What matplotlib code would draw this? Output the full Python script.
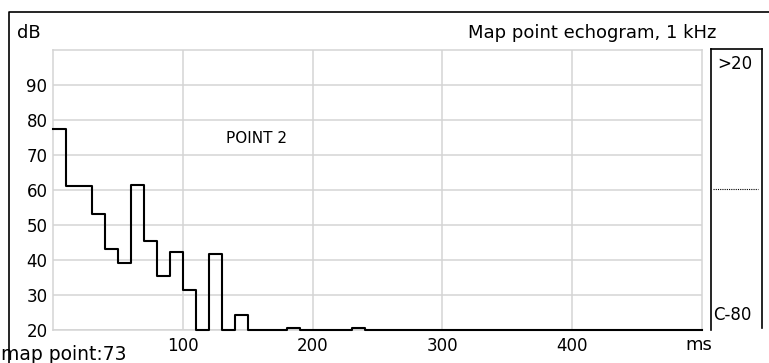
import matplotlib
matplotlib.use("Agg")
import matplotlib.pyplot as plt
from matplotlib.lines import Line2D

plt.rcParams['font.family'] = ['DejaVu Sans']

# Data
time_ms = [0, 10, 20, 30, 40, 50, 60, 70, 80, 90, 100, 110, 120, 130, 140,
           150, 160, 170, 180, 190, 200, 210, 220, 230, 240, 500]
level_db = [77.3, 61, 61, 53, 43, 39, 61.5, 45.5, 35.3, 42.3, 31.3, 20, 41.7, 20, 24.2,
            20, 20, 20, 20.6, 20, 20, 20, 20, 20.6, 20, 20]
x_ticks = [100, 200, 300, 400]
y_ticks = [20, 30, 40, 50, 60, 70, 80, 90]

W, H = 769, 363
fig = plt.figure(figsize=(W / 100, H / 100), dpi=100)
fig.patch.set_facecolor('white')

def fx(x):
    return x / W

def fy(y):
    return 1 - y / H

L, R, T, B = 53, 702, 50, 329.7
ax = fig.add_axes([fx(L), fy(B), (R - L) / W, (B - T) / H])
ax.set_xlim(0, 500)
ax.set_ylim(20, 100)
ax.set_xticks(x_ticks)
ax.set_yticks(y_ticks)
ax.grid(True, color='#d4d4d4', linewidth=1.1)
ax.set_axisbelow(True)
for s in ax.spines.values():
    s.set_color('#d4d4d4')
    s.set_linewidth(1.1)
ax.tick_params(length=0, labelsize=12, colors='black', pad=4)
ax.tick_params(axis='x', pad=5)

ax.step(time_ms, level_db, where='post', color='black', linewidth=1.5,
        clip_on=False, zorder=5)

ax.text(156.8, 74.8, 'POINT 2', fontsize=11, ha='center', va='center')

# Texts on figure
fig.text(fx(17), fy(33), 'dB', fontsize=13, ha='left', va='center')
fig.text(fx(716), fy(33), 'Map point echogram, 1 kHz', fontsize=13, ha='right', va='center')
fig.text(fx(699), fy(345), 'ms', fontsize=13, ha='center', va='center')
fig.text(fx(1), fy(354), 'map point:73', fontsize=13.5, ha='left', va='center')

# Outer frame
fig.add_artist(Line2D([fx(8.5), fx(8.5), fx(770)], [fy(364), fy(11.5), fy(11.5)],
                      color='black', linewidth=1.2))

# Right panel
fig.add_artist(Line2D([fx(711), fx(711)], [fy(330), fy(49)], color='black', linewidth=1.2))
fig.add_artist(Line2D([fx(711), fx(762)], [fy(49), fy(49)], color='black', linewidth=1.2))
fig.add_artist(Line2D([fx(762), fx(762)], [fy(49), fy(328)], color='black', linewidth=1.2))
fig.add_artist(Line2D([fx(713), fx(758)], [fy(189), fy(189)], color='black', linewidth=0.8,
                      linestyle=(0, (1, 1))))
fig.text(fx(717), fy(64), '>20', fontsize=12, ha='left', va='center')
fig.text(fx(713), fy(315), 'C-80', fontsize=12, ha='left', va='center')

fig.savefig('out.png', dpi=100, facecolor='white')
